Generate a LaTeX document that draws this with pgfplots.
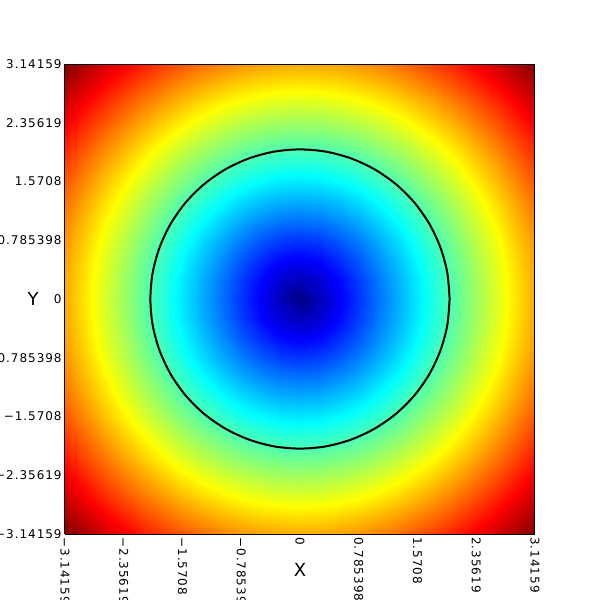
\documentclass[border=0pt]{standalone}
\usepackage{pgfplots}
\pgfplotsset{compat=1.18}
\usepackage{fontspec}
\setmainfont{DejaVu Sans}[LetterSpace=8]
\pgfplotstableread{
x y z
-3.1416 -3.1416 4.443
-2.8798 -3.1416 4.262
-2.6180 -3.1416 4.089
-2.3562 -3.1416 3.927
-2.0944 -3.1416 3.776
-1.8326 -3.1416 3.637
-1.5708 -3.1416 3.512
-1.3090 -3.1416 3.403
-1.0472 -3.1416 3.312
-0.7854 -3.1416 3.238
-0.5236 -3.1416 3.185
-0.2618 -3.1416 3.152
0 -3.1416 3.142
0.2618 -3.1416 3.152
0.5236 -3.1416 3.185
0.7854 -3.1416 3.238
1.0472 -3.1416 3.312
1.3090 -3.1416 3.403
1.5708 -3.1416 3.512
1.8326 -3.1416 3.637
2.0944 -3.1416 3.776
2.3562 -3.1416 3.927
2.6180 -3.1416 4.089
2.8798 -3.1416 4.262
3.1416 -3.1416 4.443
-3.1416 -2.8798 4.262
-2.8798 -2.8798 4.073
-2.6180 -2.8798 3.892
-2.3562 -2.8798 3.721
-2.0944 -2.8798 3.561
-1.8326 -2.8798 3.413
-1.5708 -2.8798 3.280
-1.3090 -2.8798 3.163
-1.0472 -2.8798 3.064
-0.7854 -2.8798 2.985
-0.5236 -2.8798 2.927
-0.2618 -2.8798 2.892
0 -2.8798 2.880
0.2618 -2.8798 2.892
0.5236 -2.8798 2.927
0.7854 -2.8798 2.985
1.0472 -2.8798 3.064
1.3090 -2.8798 3.163
1.5708 -2.8798 3.280
1.8326 -2.8798 3.413
2.0944 -2.8798 3.561
2.3562 -2.8798 3.721
2.6180 -2.8798 3.892
2.8798 -2.8798 4.073
3.1416 -2.8798 4.262
-3.1416 -2.6180 4.089
-2.8798 -2.6180 3.892
-2.6180 -2.6180 3.702
-2.3562 -2.6180 3.522
-2.0944 -2.6180 3.353
-1.8326 -2.6180 3.196
-1.5708 -2.6180 3.053
-1.3090 -2.6180 2.927
-1.0472 -2.6180 2.820
-0.7854 -2.6180 2.733
-0.5236 -2.6180 2.670
-0.2618 -2.6180 2.631
0 -2.6180 2.618
0.2618 -2.6180 2.631
0.5236 -2.6180 2.670
0.7854 -2.6180 2.733
1.0472 -2.6180 2.820
1.3090 -2.6180 2.927
1.5708 -2.6180 3.053
1.8326 -2.6180 3.196
2.0944 -2.6180 3.353
2.3562 -2.6180 3.522
2.6180 -2.6180 3.702
2.8798 -2.6180 3.892
3.1416 -2.6180 4.089
-3.1416 -2.3562 3.927
-2.8798 -2.3562 3.721
-2.6180 -2.3562 3.522
-2.3562 -2.3562 3.332
-2.0944 -2.3562 3.152
-1.8326 -2.3562 2.985
-1.5708 -2.3562 2.832
-1.3090 -2.3562 2.695
-1.0472 -2.3562 2.578
-0.7854 -2.3562 2.484
-0.5236 -2.3562 2.414
-0.2618 -2.3562 2.371
0 -2.3562 2.356
0.2618 -2.3562 2.371
0.5236 -2.3562 2.414
0.7854 -2.3562 2.484
1.0472 -2.3562 2.578
1.3090 -2.3562 2.695
1.5708 -2.3562 2.832
1.8326 -2.3562 2.985
2.0944 -2.3562 3.152
2.3562 -2.3562 3.332
2.6180 -2.3562 3.522
2.8798 -2.3562 3.721
3.1416 -2.3562 3.927
-3.1416 -2.0944 3.776
-2.8798 -2.0944 3.561
-2.6180 -2.0944 3.353
-2.3562 -2.0944 3.152
-2.0944 -2.0944 2.962
-1.8326 -2.0944 2.783
-1.5708 -2.0944 2.618
-1.3090 -2.0944 2.470
-1.0472 -2.0944 2.342
-0.7854 -2.0944 2.237
-0.5236 -2.0944 2.159
-0.2618 -2.0944 2.111
0 -2.0944 2.094
0.2618 -2.0944 2.111
0.5236 -2.0944 2.159
0.7854 -2.0944 2.237
1.0472 -2.0944 2.342
1.3090 -2.0944 2.470
1.5708 -2.0944 2.618
1.8326 -2.0944 2.783
2.0944 -2.0944 2.962
2.3562 -2.0944 3.152
2.6180 -2.0944 3.353
2.8798 -2.0944 3.561
3.1416 -2.0944 3.776
-3.1416 -1.8326 3.637
-2.8798 -1.8326 3.413
-2.6180 -1.8326 3.196
-2.3562 -1.8326 2.985
-2.0944 -1.8326 2.783
-1.8326 -1.8326 2.592
-1.5708 -1.8326 2.414
-1.3090 -1.8326 2.252
-1.0472 -1.8326 2.111
-0.7854 -1.8326 1.994
-0.5236 -1.8326 1.906
-0.2618 -1.8326 1.851
0 -1.8326 1.833
0.2618 -1.8326 1.851
0.5236 -1.8326 1.906
0.7854 -1.8326 1.994
1.0472 -1.8326 2.111
1.3090 -1.8326 2.252
1.5708 -1.8326 2.414
1.8326 -1.8326 2.592
2.0944 -1.8326 2.783
2.3562 -1.8326 2.985
2.6180 -1.8326 3.196
2.8798 -1.8326 3.413
3.1416 -1.8326 3.637
-3.1416 -1.5708 3.512
-2.8798 -1.5708 3.280
-2.6180 -1.5708 3.053
-2.3562 -1.5708 2.832
-2.0944 -1.5708 2.618
-1.8326 -1.5708 2.414
-1.5708 -1.5708 2.221
-1.3090 -1.5708 2.045
-1.0472 -1.5708 1.888
-0.7854 -1.5708 1.756
-0.5236 -1.5708 1.656
-0.2618 -1.5708 1.592
0 -1.5708 1.571
0.2618 -1.5708 1.592
0.5236 -1.5708 1.656
0.7854 -1.5708 1.756
1.0472 -1.5708 1.888
1.3090 -1.5708 2.045
1.5708 -1.5708 2.221
1.8326 -1.5708 2.414
2.0944 -1.5708 2.618
2.3562 -1.5708 2.832
2.6180 -1.5708 3.053
2.8798 -1.5708 3.280
3.1416 -1.5708 3.512
-3.1416 -1.3090 3.403
-2.8798 -1.3090 3.163
-2.6180 -1.3090 2.927
-2.3562 -1.3090 2.695
-2.0944 -1.3090 2.470
-1.8326 -1.3090 2.252
-1.5708 -1.3090 2.045
-1.3090 -1.3090 1.851
-1.0472 -1.3090 1.676
-0.7854 -1.3090 1.527
-0.5236 -1.3090 1.410
-0.2618 -1.3090 1.335
0 -1.3090 1.309
0.2618 -1.3090 1.335
0.5236 -1.3090 1.410
0.7854 -1.3090 1.527
1.0472 -1.3090 1.676
1.3090 -1.3090 1.851
1.5708 -1.3090 2.045
1.8326 -1.3090 2.252
2.0944 -1.3090 2.470
2.3562 -1.3090 2.695
2.6180 -1.3090 2.927
2.8798 -1.3090 3.163
3.1416 -1.3090 3.403
-3.1416 -1.0472 3.312
-2.8798 -1.0472 3.064
-2.6180 -1.0472 2.820
-2.3562 -1.0472 2.578
-2.0944 -1.0472 2.342
-1.8326 -1.0472 2.111
-1.5708 -1.0472 1.888
-1.3090 -1.0472 1.676
-1.0472 -1.0472 1.481
-0.7854 -1.0472 1.309
-0.5236 -1.0472 1.171
-0.2618 -1.0472 1.079
0 -1.0472 1.047
0.2618 -1.0472 1.079
0.5236 -1.0472 1.171
0.7854 -1.0472 1.309
1.0472 -1.0472 1.481
1.3090 -1.0472 1.676
1.5708 -1.0472 1.888
1.8326 -1.0472 2.111
2.0944 -1.0472 2.342
2.3562 -1.0472 2.578
2.6180 -1.0472 2.820
2.8798 -1.0472 3.064
3.1416 -1.0472 3.312
-3.1416 -0.7854 3.238
-2.8798 -0.7854 2.985
-2.6180 -0.7854 2.733
-2.3562 -0.7854 2.484
-2.0944 -0.7854 2.237
-1.8326 -0.7854 1.994
-1.5708 -0.7854 1.756
-1.3090 -0.7854 1.527
-1.0472 -0.7854 1.309
-0.7854 -0.7854 1.111
-0.5236 -0.7854 0.944
-0.2618 -0.7854 0.828
0 -0.7854 0.785
0.2618 -0.7854 0.828
0.5236 -0.7854 0.944
0.7854 -0.7854 1.111
1.0472 -0.7854 1.309
1.3090 -0.7854 1.527
1.5708 -0.7854 1.756
1.8326 -0.7854 1.994
2.0944 -0.7854 2.237
2.3562 -0.7854 2.484
2.6180 -0.7854 2.733
2.8798 -0.7854 2.985
3.1416 -0.7854 3.238
-3.1416 -0.5236 3.185
-2.8798 -0.5236 2.927
-2.6180 -0.5236 2.670
-2.3562 -0.5236 2.414
-2.0944 -0.5236 2.159
-1.8326 -0.5236 1.906
-1.5708 -0.5236 1.656
-1.3090 -0.5236 1.410
-1.0472 -0.5236 1.171
-0.7854 -0.5236 0.944
-0.5236 -0.5236 0.740
-0.2618 -0.5236 0.585
0 -0.5236 0.524
0.2618 -0.5236 0.585
0.5236 -0.5236 0.740
0.7854 -0.5236 0.944
1.0472 -0.5236 1.171
1.3090 -0.5236 1.410
1.5708 -0.5236 1.656
1.8326 -0.5236 1.906
2.0944 -0.5236 2.159
2.3562 -0.5236 2.414
2.6180 -0.5236 2.670
2.8798 -0.5236 2.927
3.1416 -0.5236 3.185
-3.1416 -0.2618 3.152
-2.8798 -0.2618 2.892
-2.6180 -0.2618 2.631
-2.3562 -0.2618 2.371
-2.0944 -0.2618 2.111
-1.8326 -0.2618 1.851
-1.5708 -0.2618 1.592
-1.3090 -0.2618 1.335
-1.0472 -0.2618 1.079
-0.7854 -0.2618 0.828
-0.5236 -0.2618 0.585
-0.2618 -0.2618 0.370
0 -0.2618 0.262
0.2618 -0.2618 0.370
0.5236 -0.2618 0.585
0.7854 -0.2618 0.828
1.0472 -0.2618 1.079
1.3090 -0.2618 1.335
1.5708 -0.2618 1.592
1.8326 -0.2618 1.851
2.0944 -0.2618 2.111
2.3562 -0.2618 2.371
2.6180 -0.2618 2.631
2.8798 -0.2618 2.892
3.1416 -0.2618 3.152
-3.1416 0 3.142
-2.8798 0 2.880
-2.6180 0 2.618
-2.3562 0 2.356
-2.0944 0 2.094
-1.8326 0 1.833
-1.5708 0 1.571
-1.3090 0 1.309
-1.0472 0 1.047
-0.7854 0 0.785
-0.5236 0 0.524
-0.2618 0 0.262
0 0 0
0.2618 0 0.262
0.5236 0 0.524
0.7854 0 0.785
1.0472 0 1.047
1.3090 0 1.309
1.5708 0 1.571
1.8326 0 1.833
2.0944 0 2.094
2.3562 0 2.356
2.6180 0 2.618
2.8798 0 2.880
3.1416 0 3.142
-3.1416 0.2618 3.152
-2.8798 0.2618 2.892
-2.6180 0.2618 2.631
-2.3562 0.2618 2.371
-2.0944 0.2618 2.111
-1.8326 0.2618 1.851
-1.5708 0.2618 1.592
-1.3090 0.2618 1.335
-1.0472 0.2618 1.079
-0.7854 0.2618 0.828
-0.5236 0.2618 0.585
-0.2618 0.2618 0.370
0 0.2618 0.262
0.2618 0.2618 0.370
0.5236 0.2618 0.585
0.7854 0.2618 0.828
1.0472 0.2618 1.079
1.3090 0.2618 1.335
1.5708 0.2618 1.592
1.8326 0.2618 1.851
2.0944 0.2618 2.111
2.3562 0.2618 2.371
2.6180 0.2618 2.631
2.8798 0.2618 2.892
3.1416 0.2618 3.152
-3.1416 0.5236 3.185
-2.8798 0.5236 2.927
-2.6180 0.5236 2.670
-2.3562 0.5236 2.414
-2.0944 0.5236 2.159
-1.8326 0.5236 1.906
-1.5708 0.5236 1.656
-1.3090 0.5236 1.410
-1.0472 0.5236 1.171
-0.7854 0.5236 0.944
-0.5236 0.5236 0.740
-0.2618 0.5236 0.585
0 0.5236 0.524
0.2618 0.5236 0.585
0.5236 0.5236 0.740
0.7854 0.5236 0.944
1.0472 0.5236 1.171
1.3090 0.5236 1.410
1.5708 0.5236 1.656
1.8326 0.5236 1.906
2.0944 0.5236 2.159
2.3562 0.5236 2.414
2.6180 0.5236 2.670
2.8798 0.5236 2.927
3.1416 0.5236 3.185
-3.1416 0.7854 3.238
-2.8798 0.7854 2.985
-2.6180 0.7854 2.733
-2.3562 0.7854 2.484
-2.0944 0.7854 2.237
-1.8326 0.7854 1.994
-1.5708 0.7854 1.756
-1.3090 0.7854 1.527
-1.0472 0.7854 1.309
-0.7854 0.7854 1.111
-0.5236 0.7854 0.944
-0.2618 0.7854 0.828
0 0.7854 0.785
0.2618 0.7854 0.828
0.5236 0.7854 0.944
0.7854 0.7854 1.111
1.0472 0.7854 1.309
1.3090 0.7854 1.527
1.5708 0.7854 1.756
1.8326 0.7854 1.994
2.0944 0.7854 2.237
2.3562 0.7854 2.484
2.6180 0.7854 2.733
2.8798 0.7854 2.985
3.1416 0.7854 3.238
-3.1416 1.0472 3.312
-2.8798 1.0472 3.064
-2.6180 1.0472 2.820
-2.3562 1.0472 2.578
-2.0944 1.0472 2.342
-1.8326 1.0472 2.111
-1.5708 1.0472 1.888
-1.3090 1.0472 1.676
-1.0472 1.0472 1.481
-0.7854 1.0472 1.309
-0.5236 1.0472 1.171
-0.2618 1.0472 1.079
0 1.0472 1.047
0.2618 1.0472 1.079
0.5236 1.0472 1.171
0.7854 1.0472 1.309
1.0472 1.0472 1.481
1.3090 1.0472 1.676
1.5708 1.0472 1.888
1.8326 1.0472 2.111
2.0944 1.0472 2.342
2.3562 1.0472 2.578
2.6180 1.0472 2.820
2.8798 1.0472 3.064
3.1416 1.0472 3.312
-3.1416 1.3090 3.403
-2.8798 1.3090 3.163
-2.6180 1.3090 2.927
-2.3562 1.3090 2.695
-2.0944 1.3090 2.470
-1.8326 1.3090 2.252
-1.5708 1.3090 2.045
-1.3090 1.3090 1.851
-1.0472 1.3090 1.676
-0.7854 1.3090 1.527
-0.5236 1.3090 1.410
-0.2618 1.3090 1.335
0 1.3090 1.309
0.2618 1.3090 1.335
0.5236 1.3090 1.410
0.7854 1.3090 1.527
1.0472 1.3090 1.676
1.3090 1.3090 1.851
1.5708 1.3090 2.045
1.8326 1.3090 2.252
2.0944 1.3090 2.470
2.3562 1.3090 2.695
2.6180 1.3090 2.927
2.8798 1.3090 3.163
3.1416 1.3090 3.403
-3.1416 1.5708 3.512
-2.8798 1.5708 3.280
-2.6180 1.5708 3.053
-2.3562 1.5708 2.832
-2.0944 1.5708 2.618
-1.8326 1.5708 2.414
-1.5708 1.5708 2.221
-1.3090 1.5708 2.045
-1.0472 1.5708 1.888
-0.7854 1.5708 1.756
-0.5236 1.5708 1.656
-0.2618 1.5708 1.592
0 1.5708 1.571
0.2618 1.5708 1.592
0.5236 1.5708 1.656
0.7854 1.5708 1.756
1.0472 1.5708 1.888
1.3090 1.5708 2.045
1.5708 1.5708 2.221
1.8326 1.5708 2.414
2.0944 1.5708 2.618
2.3562 1.5708 2.832
2.6180 1.5708 3.053
2.8798 1.5708 3.280
3.1416 1.5708 3.512
-3.1416 1.8326 3.637
-2.8798 1.8326 3.413
-2.6180 1.8326 3.196
-2.3562 1.8326 2.985
-2.0944 1.8326 2.783
-1.8326 1.8326 2.592
-1.5708 1.8326 2.414
-1.3090 1.8326 2.252
-1.0472 1.8326 2.111
-0.7854 1.8326 1.994
-0.5236 1.8326 1.906
-0.2618 1.8326 1.851
0 1.8326 1.833
0.2618 1.8326 1.851
0.5236 1.8326 1.906
0.7854 1.8326 1.994
1.0472 1.8326 2.111
1.3090 1.8326 2.252
1.5708 1.8326 2.414
1.8326 1.8326 2.592
2.0944 1.8326 2.783
2.3562 1.8326 2.985
2.6180 1.8326 3.196
2.8798 1.8326 3.413
3.1416 1.8326 3.637
-3.1416 2.0944 3.776
-2.8798 2.0944 3.561
-2.6180 2.0944 3.353
-2.3562 2.0944 3.152
-2.0944 2.0944 2.962
-1.8326 2.0944 2.783
-1.5708 2.0944 2.618
-1.3090 2.0944 2.470
-1.0472 2.0944 2.342
-0.7854 2.0944 2.237
-0.5236 2.0944 2.159
-0.2618 2.0944 2.111
0 2.0944 2.094
0.2618 2.0944 2.111
0.5236 2.0944 2.159
0.7854 2.0944 2.237
1.0472 2.0944 2.342
1.3090 2.0944 2.470
1.5708 2.0944 2.618
1.8326 2.0944 2.783
2.0944 2.0944 2.962
2.3562 2.0944 3.152
2.6180 2.0944 3.353
2.8798 2.0944 3.561
3.1416 2.0944 3.776
-3.1416 2.3562 3.927
-2.8798 2.3562 3.721
-2.6180 2.3562 3.522
-2.3562 2.3562 3.332
-2.0944 2.3562 3.152
-1.8326 2.3562 2.985
-1.5708 2.3562 2.832
-1.3090 2.3562 2.695
-1.0472 2.3562 2.578
-0.7854 2.3562 2.484
-0.5236 2.3562 2.414
-0.2618 2.3562 2.371
0 2.3562 2.356
0.2618 2.3562 2.371
0.5236 2.3562 2.414
0.7854 2.3562 2.484
1.0472 2.3562 2.578
1.3090 2.3562 2.695
1.5708 2.3562 2.832
1.8326 2.3562 2.985
2.0944 2.3562 3.152
2.3562 2.3562 3.332
2.6180 2.3562 3.522
2.8798 2.3562 3.721
3.1416 2.3562 3.927
-3.1416 2.6180 4.089
-2.8798 2.6180 3.892
-2.6180 2.6180 3.702
-2.3562 2.6180 3.522
-2.0944 2.6180 3.353
-1.8326 2.6180 3.196
-1.5708 2.6180 3.053
-1.3090 2.6180 2.927
-1.0472 2.6180 2.820
-0.7854 2.6180 2.733
-0.5236 2.6180 2.670
-0.2618 2.6180 2.631
0 2.6180 2.618
0.2618 2.6180 2.631
0.5236 2.6180 2.670
0.7854 2.6180 2.733
1.0472 2.6180 2.820
1.3090 2.6180 2.927
1.5708 2.6180 3.053
1.8326 2.6180 3.196
2.0944 2.6180 3.353
2.3562 2.6180 3.522
2.6180 2.6180 3.702
2.8798 2.6180 3.892
3.1416 2.6180 4.089
-3.1416 2.8798 4.262
-2.8798 2.8798 4.073
-2.6180 2.8798 3.892
-2.3562 2.8798 3.721
-2.0944 2.8798 3.561
-1.8326 2.8798 3.413
-1.5708 2.8798 3.280
-1.3090 2.8798 3.163
-1.0472 2.8798 3.064
-0.7854 2.8798 2.985
-0.5236 2.8798 2.927
-0.2618 2.8798 2.892
0 2.8798 2.880
0.2618 2.8798 2.892
0.5236 2.8798 2.927
0.7854 2.8798 2.985
1.0472 2.8798 3.064
1.3090 2.8798 3.163
1.5708 2.8798 3.280
1.8326 2.8798 3.413
2.0944 2.8798 3.561
2.3562 2.8798 3.721
2.6180 2.8798 3.892
2.8798 2.8798 4.073
3.1416 2.8798 4.262
-3.1416 3.1416 4.443
-2.8798 3.1416 4.262
-2.6180 3.1416 4.089
-2.3562 3.1416 3.927
-2.0944 3.1416 3.776
-1.8326 3.1416 3.637
-1.5708 3.1416 3.512
-1.3090 3.1416 3.403
-1.0472 3.1416 3.312
-0.7854 3.1416 3.238
-0.5236 3.1416 3.185
-0.2618 3.1416 3.152
0 3.1416 3.142
0.2618 3.1416 3.152
0.5236 3.1416 3.185
0.7854 3.1416 3.238
1.0472 3.1416 3.312
1.3090 3.1416 3.403
1.5708 3.1416 3.512
1.8326 3.1416 3.637
2.0944 3.1416 3.776
2.3562 3.1416 3.927
2.6180 3.1416 4.089
2.8798 3.1416 4.262
3.1416 3.1416 4.443
}\fielddata
\begin{document}
\begin{tikzpicture}
\begin{axis}[
  scale only axis, width=235pt, height=235pt,
  view={0}{90},
  xmin=-3.14159, xmax=3.14159, ymin=-3.14159, ymax=3.14159,
  enlargelimits=false,
  colormap/jet, point meta min=0, point meta max=4.443,
  axis line style={line width=0.5pt, black},
  major tick length=0pt, ztick=\empty,
  xtick={-3.14159,-2.35619,-1.5708,-0.785398,0,0.785398,1.5708,2.35619,3.14159},
  ytick={-3.14159,-2.35619,-1.5708,-0.785398,0,0.785398,1.5708,2.35619,3.14159},
  xticklabels={−3.14159,−2.35619,−1.5708,−0.785398,0,0.785398,1.5708,2.35619,3.14159},
  yticklabels={−3.14159,−2.35619,−1.5708,−0.785398,0,0.785398,1.5708,2.35619,3.14159},
  xticklabel style={rotate=-90, anchor=west, inner sep=1.5pt, font=\fontsize{6}{7}\selectfont},
  yticklabel style={anchor=east, inner sep=1.5pt, font=\fontsize{6}{7}\selectfont},
  xlabel={X}, ylabel={Y},
  xlabel style={at={(axis description cs:0.5,-0.077)}, anchor=center, font=\fontsize{9}{10}\selectfont},
  ylabel style={at={(axis description cs:-0.068,0.5)}, anchor=center, rotate=-90, font=\fontsize{9}{10}\selectfont},
  axis on top,
]
\addplot3[surf, shader=interp, mesh/cols=25, point meta=explicit] table[x=x, y=y, z=z, meta=z] {\fielddata};
\addplot3[black, line width=1pt, smooth] coordinates {
(2,0,0) (1.970,0.347,0) (1.879,0.684,0) (1.732,1,0) (1.532,1.286,0) (1.286,1.532,0) (1,1.732,0) (0.684,1.879,0) (0.347,1.970,0) (0,2,0)
(-0.347,1.970,0) (-0.684,1.879,0) (-1,1.732,0) (-1.286,1.532,0) (-1.532,1.286,0) (-1.732,1,0) (-1.879,0.684,0) (-1.970,0.347,0) (-2,0,0)
(-1.970,-0.347,0) (-1.879,-0.684,0) (-1.732,-1,0) (-1.532,-1.286,0) (-1.286,-1.532,0) (-1,-1.732,0) (-0.684,-1.879,0) (-0.347,-1.970,0) (0,-2,0)
(0.347,-1.970,0) (0.684,-1.879,0) (1,-1.732,0) (1.286,-1.532,0) (1.532,-1.286,0) (1.732,-1,0) (1.879,-0.684,0) (1.970,-0.347,0) (2,0,0)
};
\coordinate (ll) at (rel axis cs:0,0,0);
\coordinate (ur) at (rel axis cs:1,1,0);
\end{axis}
\pgfresetboundingbox
\path[use as bounding box] ([xshift=-32.5pt,yshift=-33pt]ll) rectangle ([xshift=32.5pt,yshift=32pt]ur);
\end{tikzpicture}
\end{document}
